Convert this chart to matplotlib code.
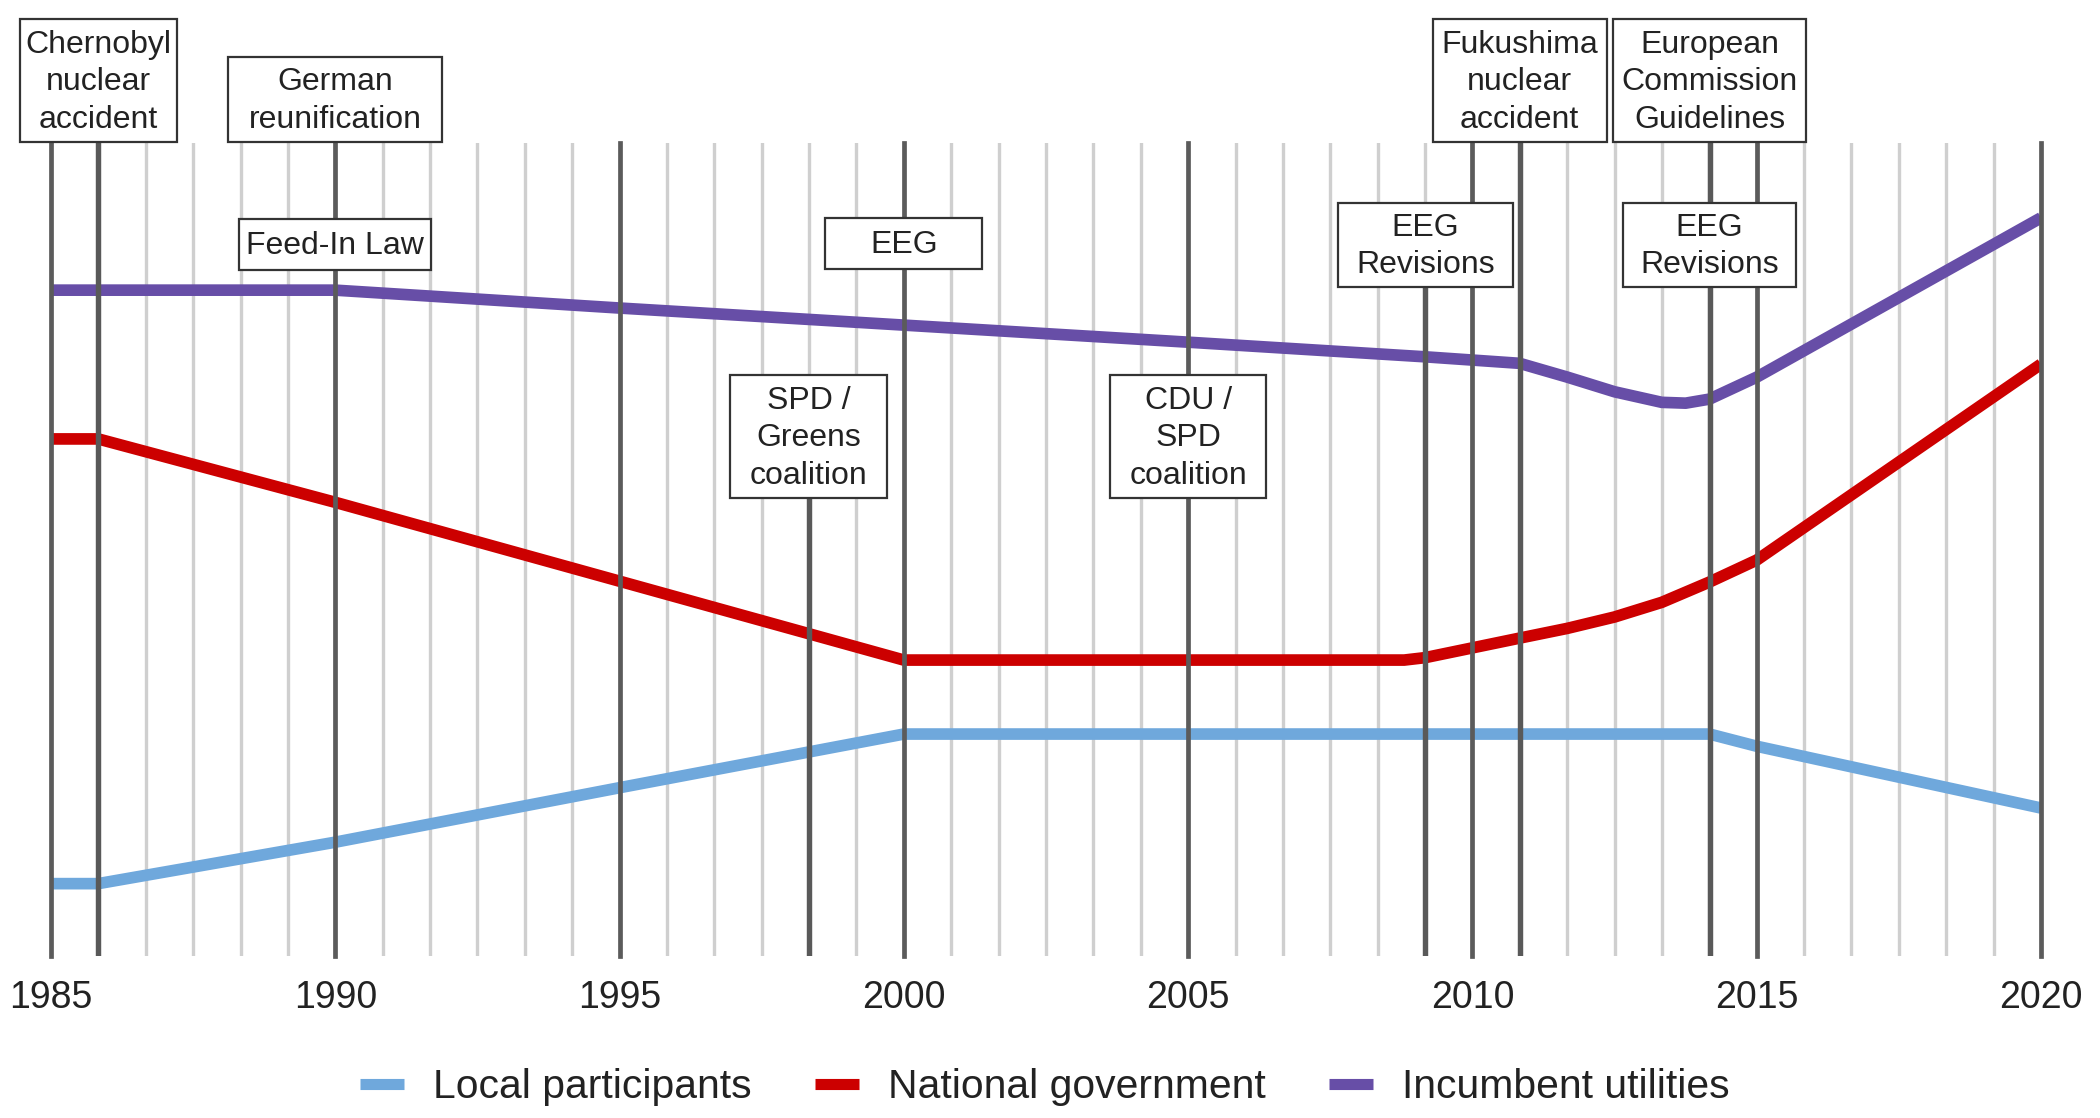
import matplotlib
matplotlib.use('Agg')
import matplotlib.pyplot as plt
from matplotlib.patches import Rectangle
from matplotlib.lines import Line2D
import numpy as np

plt.rcParams['font.family'] = ['Liberation Sans', 'DejaVu Sans']

# ---------------- data ----------------
series_names = ['Local participants', 'National government', 'Incumbent utilities']

local_years = [1985, 1985.83, 1990, 1995, 2000, 2014.17, 2015, 2020]
local_vals = [8.9, 8.9, 14.0, 20.7, 27.3, 27.3, 25.8, 18.2]

gov_years = [1985, 1985.83, 1990, 1995, 2000, 2008.8, 2009.17, 2010, 2010.83,
             2011.67, 2012.5, 2013.33, 2014.17, 2015, 2020]
gov_vals = [63.6, 63.6, 55.8, 46.1, 36.4, 36.4, 36.7, 37.9, 39.1,
            40.3, 41.7, 43.5, 46.0, 48.7, 72.8]

util_years = [1985, 1990, 1995, 2000, 2005, 2009.17, 2010.83, 2011.67, 2012.5,
              2013.33, 2013.75, 2014.17, 2015, 2020]
util_vals = [81.9, 81.9, 79.7, 77.6, 75.5, 73.7, 72.9, 71.2, 69.4,
             68.1, 68.0, 68.5, 71.2, 90.8]

tick_years = [1985, 1990, 1995, 2000, 2005, 2010, 2015, 2020]
tick_labels = ['1985', '1990', '1995', '2000', '2005', '2010', '2015', '2020']

event_years = [1985.83, 1990, 1990, 2000, 1998.33, 2005, 2009.17, 2010.83, 2014.17, 2014.17]
event_labels = ['Chernobyl\nnuclear\naccident', 'German\nreunification', 'Feed-In Law',
                'EEG', 'SPD /\nGreens\ncoalition', 'CDU /\nSPD\ncoalition',
                'EEG\nRevisions', 'Fukushima\nnuclear\naccident',
                'European\nCommission\nGuidelines', 'EEG\nRevisions']
# extra dark event lines (not on 5-year marks)
event_line_years = [1985.83, 1998.33, 2009.17, 2010.83, 2014.17]

# ---------------- layout / style ----------------
W, H = 2100, 1118
colors = ['#6fa8dc', '#cc0000', '#674ea7']
# box geometry in pixels: width, top, bottom
box_geom = [(157, 19, 142), (214, 57, 142), (192, 219, 270), (157, 218, 269),
            (157, 375, 498), (156, 375, 498), (175, 203, 287), (174, 19, 142),
            (193, 19, 142), (173, 203, 287)]
# which event lines stop at a box bottom (pixel y), None = full height
event_line_stop = [None, 498, 287, None, None]

fig = plt.figure(figsize=(W / 100, H / 100), dpi=100)
ax_left, ax_right, ax_top, ax_bot = 51, 2041, 143, 956
ax = fig.add_axes([ax_left / W, 1 - ax_bot / H, (ax_right - ax_left) / W, (ax_bot - ax_top) / H])
ax.set_xlim(1985, 2020)
ax.set_ylim(0, 100)
for s in ax.spines.values():
    s.set_visible(False)
ax.set_yticks([])

# light minor gridlines every 10 months
ax.set_xticks(np.arange(43) * 5 / 6 + 1985, minor=True)
ax.set_xticks(tick_years)
ax.set_xticklabels(tick_labels)
ax.grid(which='minor', axis='x', color='#cfcfcf', lw=2.4, zorder=1)
ax.tick_params(axis='x', which='both', length=0, pad=17, labelsize=27, labelcolor='#222222')

# dark 5-year lines (unclipped so edge lines keep full width)
for yr in tick_years:
    ax.axvline(yr, color='#5b5b5b', lw=3.4, zorder=4, clip_on=False)

def px_to_val(ypx):
    return (ax_bot - ypx) / (ax_bot - ax_top) * 100

for yr, stop in zip(event_line_years, event_line_stop):
    ymax = 1.0 if stop is None else px_to_val(stop) / 100
    ax.axvline(yr, ymin=0, ymax=ymax, color='#595959', lw=3.9, zorder=4)

lw = 8.4
ax.plot(local_years, local_vals, color=colors[0], lw=lw, solid_joinstyle='round',
        solid_capstyle='butt', zorder=3)
ax.plot(gov_years, gov_vals, color=colors[1], lw=lw, solid_joinstyle='round',
        solid_capstyle='butt', zorder=3)
ax.plot(util_years, util_vals, color=colors[2], lw=lw, solid_joinstyle='round',
        solid_capstyle='butt', zorder=3)

# annotation boxes
fig.canvas.draw()
for yr, label, (w, top, bot) in zip(event_years, event_labels, box_geom):
    xc = ax.transData.transform((yr, 0))[0]
    rect = Rectangle(((xc - w / 2) / W, 1 - bot / H), w / W, (bot - top) / H,
                     transform=fig.transFigure, facecolor='white', edgecolor='#333333',
                     lw=1.6, zorder=10)
    fig.add_artist(rect)
    fig.text(xc / W, 1 - (top + bot) / 2 / H - 0.0015, label, ha='center', va='center',
             fontsize=23, linespacing=1.33, color='#222222', zorder=11)

handles = [Line2D([], [], color=c, lw=8, solid_capstyle='butt') for c in colors]
fig.legend(handles, series_names, loc='center', bbox_to_anchor=(1045 / W, 1 - 1087 / H),
           ncol=3, frameon=False, fontsize=29.4, handlelength=1.07, handletextpad=0.72,
           columnspacing=1.55, borderpad=0, borderaxespad=0, labelcolor='#222222')

fig.savefig('out.png', dpi=100)
